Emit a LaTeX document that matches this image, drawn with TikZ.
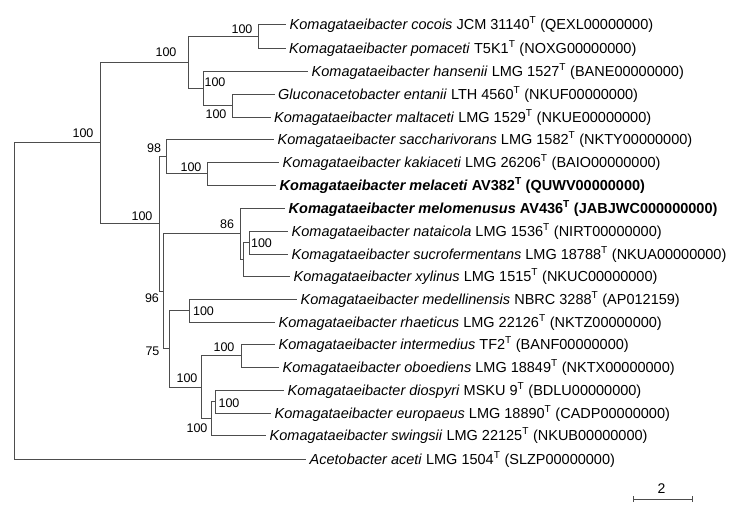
\documentclass[tikz,border=0pt]{standalone}
\usepackage{fontspec}
\setmainfont{Liberation Sans}
\usetikzlibrary{calc}
\definecolor{brc}{HTML}{4D4D4D}
\tikzset{
  br/.style={draw=brc, line width=0.95pt},
  leaf/.style={anchor=west, inner xsep=3.5pt, inner ysep=0pt, text height=13pt, text depth=2.6pt, font=\fontsize{14.5}{17}\selectfont},
  bs/.style={inner sep=0pt, font=\fontsize{12.5}{15}\selectfont},
}
\begin{document}
\begin{tikzpicture}[x=1pt,y=-1pt]
\useasboundingbox (0,0) rectangle (739,515);
% leaves
\node[leaf] (cocois) at (286,24) {\textit{Komagataeibacter cocois} JCM 31140\textsuperscript{T} (QEXL00000000)};
\node[leaf] (pomaceti) at (285.5,48) {\textit{Komagataeibacter pomaceti} T5K1\textsuperscript{T} (NOXG00000000)};
\node[leaf] (hansenii) at (308,71) {\textit{Komagataeibacter hansenii} LMG 1527\textsuperscript{T} (BANE00000000)};
\node[leaf] (entanii) at (274.5,94) {\textit{Gluconacetobacter entanii} LTH 4560\textsuperscript{T} (NKUF00000000)};
\node[leaf] (maltaceti) at (270.5,117) {\textit{Komagataeibacter maltaceti} LMG 1529\textsuperscript{T} (NKUE00000000)};
\node[leaf] (sacchari) at (274,139) {\textit{Komagataeibacter saccharivorans} LMG 1582\textsuperscript{T} (NKTY00000000)};
\node[leaf] (kakiaceti) at (279,162) {\textit{Komagataeibacter kakiaceti} LMG 26206\textsuperscript{T} (BAIO00000000)};
\node[leaf] (melaceti) at (276,185) {\bfseries\textit{Komagataeibacter melaceti} AV382\textsuperscript{T} (QUWV00000000)};
\node[leaf] (melomen) at (285,208) {\bfseries\textit{Komagataeibacter melomenusus} AV436\textsuperscript{T} (JABJWC000000000)};
\node[leaf] (nataicola) at (288,231) {\textit{Komagataeibacter nataicola} LMG 1536\textsuperscript{T} (NIRT00000000)};
\node[leaf] (sucrofer) at (288,254) {\textit{Komagataeibacter sucrofermentans} LMG 18788\textsuperscript{T} (NKUA00000000)};
\node[leaf] (xylinus) at (290,276) {\textit{Komagataeibacter xylinus} LMG 1515\textsuperscript{T} (NKUC00000000)};
\node[leaf] (medellin) at (297,299) {\textit{Komagataeibacter medellinensis} NBRC 3288\textsuperscript{T} (AP012159)};
\node[leaf] (rhaeticus) at (275,322) {\textit{Komagataeibacter rhaeticus} LMG 22126\textsuperscript{T} (NKTZ00000000)};
\node[leaf] (intermed) at (275,344) {\textit{Komagataeibacter intermedius} TF2\textsuperscript{T} (BANF00000000)};
\node[leaf] (oboediens) at (279,367) {\textit{Komagataeibacter oboediens} LMG 18849\textsuperscript{T} (NKTX00000000)};
\node[leaf] (diospyri) at (284,390) {\textit{Komagataeibacter diospyri} MSKU 9\textsuperscript{T} (BDLU00000000)};
\node[leaf] (europaeus) at (271,413) {\textit{Komagataeibacter europaeus} LMG 18890\textsuperscript{T} (CADP00000000)};
\node[leaf] (swingsii) at (266,435) {\textit{Komagataeibacter swingsii} LMG 22125\textsuperscript{T} (NKUB00000000)};
\node[leaf] (aceti) at (306,459) {\textit{Acetobacter aceti} LMG 1504\textsuperscript{T} (SLZP00000000)};
% internal nodes
\coordinate (R0) at (14,301);
\coordinate (A) at (100,142.8);
\coordinate (B) at (188,62);
\coordinate (C) at (258,36);
\coordinate (D) at (203,88.2);
\coordinate (E) at (232,105.5);
\coordinate (F) at (159,223.6);
\coordinate (G) at (166,156);
\coordinate (I) at (207,173.5);
\coordinate (H) at (163,291.2);
\coordinate (J) at (240,233.6);
\coordinate (M) at (243.5,259.2);
\coordinate (L) at (249,242.5);
\coordinate (K) at (169,348.8);
\coordinate (N) at (189.5,310.5);
\coordinate (O) at (201,387);
\coordinate (P) at (241,355.5);
\coordinate (Q) at (211,418.5);
\coordinate (R) at (215,401.5);
% branches
\draw[br] (R0) |- (A);
\draw[br] (R0) |- (aceti.west);
\draw[br] (A) |- (B);
\draw[br] (A) |- (F);
\draw[br] (B) |- (C);
\draw[br] (B) |- (D);
\draw[br] (C) |- (cocois.west);
\draw[br] (C) |- (pomaceti.west);
\draw[br] (D) |- (hansenii.west);
\draw[br] (D) |- (E);
\draw[br] (E) |- (entanii.west);
\draw[br] (E) |- (maltaceti.west);
\draw[br] (F) |- (G);
\draw[br] (F) |- (H);
\draw[br] (G) |- (sacchari.west);
\draw[br] (G) |- (I);
\draw[br] (I) |- (kakiaceti.west);
\draw[br] (I) |- (melaceti.west);
\draw[br] (H) |- (J);
\draw[br] (H) |- (K);
\draw[br] (J) |- (melomen.west);
\draw[br] (J) |- (M);
\draw[br] (M) |- (L);
\draw[br] (M) |- (xylinus.west);
\draw[br] (L) |- (nataicola.west);
\draw[br] (L) |- (sucrofer.west);
\draw[br] (K) |- (N);
\draw[br] (K) |- (O);
\draw[br] (N) |- (medellin.west);
\draw[br] (N) |- (rhaeticus.west);
\draw[br] (O) |- (P);
\draw[br] (O) |- (Q);
\draw[br] (P) |- (intermed.west);
\draw[br] (P) |- (oboediens.west);
\draw[br] (Q) |- (R);
\draw[br] (Q) |- (swingsii.west);
\draw[br] (R) |- (diospyri.west);
\draw[br] (R) |- (europaeus.west);
% bootstrap values
\node[bs] (bA) at (83,133) {100};
\node[bs] (bB) at (166,52) {100};
\node[bs] (bC) at (242,29) {100};
\node[bs] (bD) at (215,82) {100};
\node[bs] (bE) at (216,114) {100};
\node[bs] (bF) at (142,216) {100};
\node[bs] (bG) at (154,148) {98};
\node[bs] (bI) at (191,167) {100};
\node[bs] (bJ) at (227,224) {86};
\node[bs] (bL) at (261.5,243) {100};
\node[bs] (bH) at (152,298) {96};
\node[bs] (bN) at (203.5,311) {100};
\node[bs] (bK) at (152.5,351) {75};
\node[bs] (bP) at (224,347.5) {100};
\node[bs] (bO) at (187,378.5) {100};
\node[bs] (bR) at (229,403.5) {100};
\node[bs] (bQ) at (197,428.5) {100};
% scale bar
\coordinate (s1) at (633,499);
\coordinate (s2) at (692,499);
\draw[br] (s1) -- (s2);
\draw[br] ($(s1)+(0,-3)$) -- ($(s1)+(0,3)$);
\draw[br] ($(s2)+(0,-3)$) -- ($(s2)+(0,3)$);
\node[bs, font=\fontsize{14}{16}\selectfont] (scl) at (661.5,489) {2};
\end{tikzpicture}
\end{document}
